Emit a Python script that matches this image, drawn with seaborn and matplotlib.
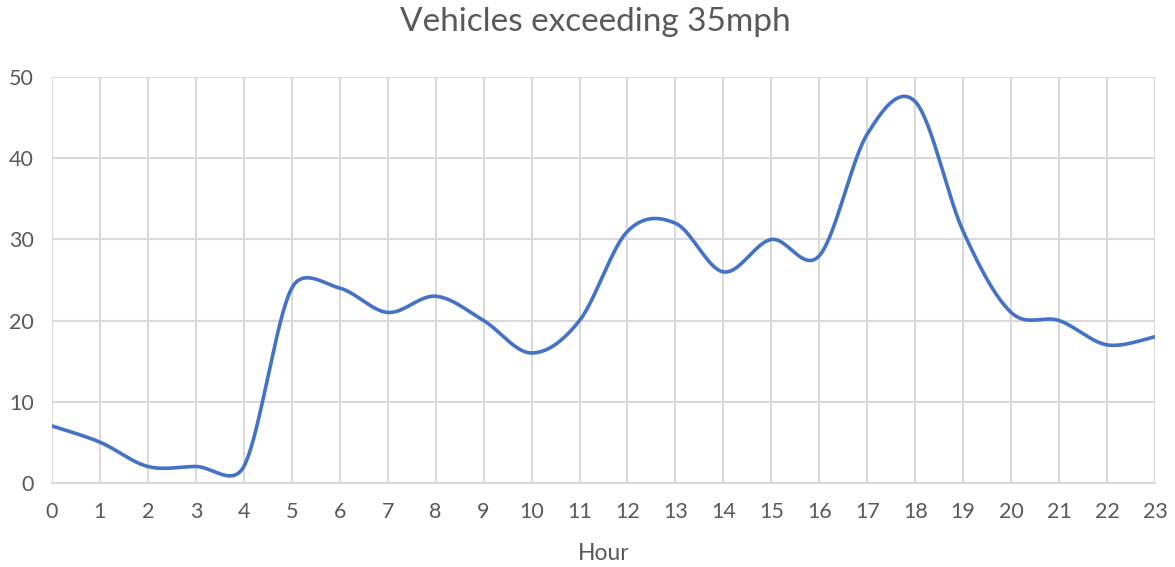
import numpy as np
import pandas as pd
import matplotlib
matplotlib.use("Agg")
import matplotlib.pyplot as plt
import seaborn as sns

hours = list(range(24))
vehicles = [7, 5, 2, 2, 2, 24, 24, 21, 23, 20, 16, 20, 31, 32, 26, 30, 28, 43, 47, 31, 21, 20, 17, 18]
title = "Vehicles exceeding 35mph"
xlabel = "Hour"

W, H, DPI = 1175, 567, 100
L, R, T, B = 52, 1155, 77.3, 482.7
xpx = (R - L) / 23.0
ypx = (B - T) / 50.0


def excel_smooth(xs, ys, n=40):
    # Excel-like smoothed line: cubic Bezier segments, tangent 1/6 clamped to half segment
    P = np.column_stack([np.asarray(xs, float) * xpx, np.asarray(ys, float) * ypx])
    m = len(P)
    out = []
    for i in range(m - 1):
        p0 = P[i - 1] if i > 0 else P[i]
        p1, p2 = P[i], P[i + 1]
        p3 = P[i + 2] if i + 2 < m else P[i + 1]
        half = np.linalg.norm(p2 - p1) / 2
        v1 = (p2 - p0) / 6
        v2 = (p3 - p1) / 6
        n1, n2 = np.linalg.norm(v1), np.linalg.norm(v2)
        if n1 > half:
            v1 = v1 * half / n1
        if n2 > half:
            v2 = v2 * half / n2
        c1 = p1 + v1
        c2 = p2 - v2
        t = np.linspace(0, 1, n, endpoint=(i == m - 2))[:, None]
        seg = ((1 - t) ** 3) * p1 + 3 * ((1 - t) ** 2) * t * c1 + 3 * (1 - t) * t ** 2 * c2 + t ** 3 * p2
        out.append(seg)
    pts = np.vstack(out)
    return pts[:, 0] / xpx, pts[:, 1] / ypx


sx, sy = excel_smooth(hours, vehicles)
df = pd.DataFrame({"Hour": sx, "Vehicles": sy})

sns.set_theme(style="whitegrid")
plt.rcParams["font.family"] = ["Lato", "DejaVu Sans"]

fig = plt.figure(figsize=(W / DPI, H / DPI), dpi=DPI)
ax = fig.add_axes([L / W, 1 - B / H, (R - L) / W, (B - T) / H])
sns.lineplot(data=df, x="Hour", y="Vehicles", ax=ax, color="#4472C4", linewidth=2.6, sort=False)

ax.set_xlim(0, 23)
ax.set_ylim(0, 50)
ax.set_xticks(hours)
ax.set_yticks([0, 10, 20, 30, 40, 50])
ax.grid(True, color="#d9d9d9", linewidth=1.5)
for s in ["top", "right", "left"]:
    ax.spines[s].set_visible(False)
ax.spines["bottom"].set_color("#d9d9d9")
ax.spines["bottom"].set_linewidth(1.5)
ax.tick_params(axis="both", length=0, labelsize=15.5, labelcolor="#595959")
ax.tick_params(axis="x", pad=14)
ax.tick_params(axis="y", pad=13)
ax.set_xlabel(xlabel, fontsize=16.5, color="#595959", labelpad=15)
ax.set_ylabel("")
fig.text(0.507, 1 - 22 / H, title, ha="center", va="center", fontsize=24, color="#595959")

fig.savefig("out.png", dpi=DPI)
